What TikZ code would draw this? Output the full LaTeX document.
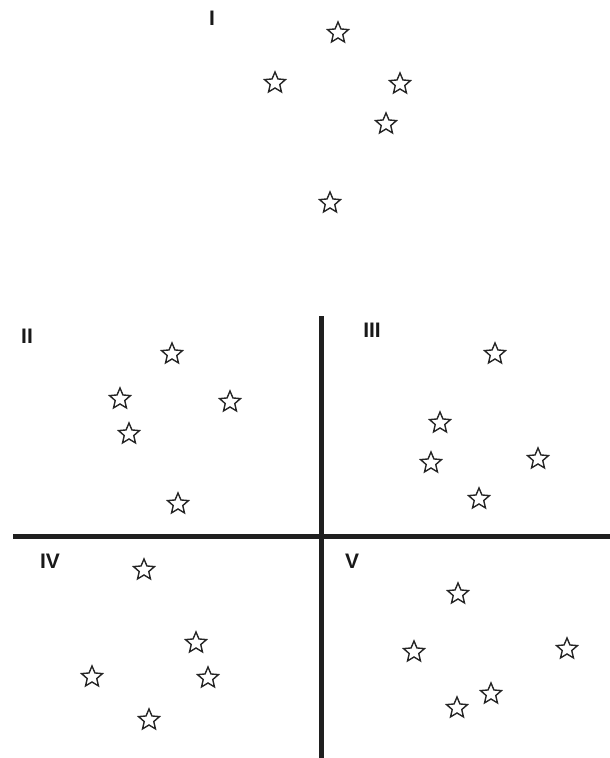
\documentclass[tikz,border=0pt]{standalone}
\usepackage{fontspec}
\setmainfont{Liberation Sans}
\usetikzlibrary{shapes.geometric}

\begin{document}
\begin{tikzpicture}[
    x=1pt, y=-1pt,
    pt/.style={star, star points=5, star point ratio=2.2, draw=black!85, line width=1.4pt, minimum size=22pt, inner sep=0pt},
    region/.style={font=\fontsize{21}{24}\selectfont\bfseries, inner sep=0pt, text=black!90},
    axis/.style={line width=5pt, black!88}
  ]
    \useasboundingbox (0,0) rectangle (610,758);

    % group I
    \node[region] (lI) at (212,18) {I};
    \node[pt] (a1) at (338,33) {};
    \node[pt] (a2) at (275,83) {};
    \node[pt] (a3) at (400,84) {};
    \node[pt] (a4) at (386,124) {};
    \node[pt] (a5) at (330,203) {};

    % axes
    \coordinate (vtop) at (321.5,316);
    \coordinate (vbot) at (321.5,758);
    \coordinate (hleft) at (13,536);
    \coordinate (hright) at (610,536);
    \draw[axis] (vtop) -- (vbot);
    \draw[axis] (hleft) -- (hright);

    % group II
    \node[region] (lII) at (27,336) {II};
    \node[pt] (b1) at (172,354) {};
    \node[pt] (b2) at (120,399) {};
    \node[pt] (b3) at (230,402) {};
    \node[pt] (b4) at (129,434) {};
    \node[pt] (b5) at (178,504) {};

    % group III
    \node[region] (lIII) at (372,330) {III};
    \node[pt] (c1) at (495,354) {};
    \node[pt] (c2) at (440,423) {};
    \node[pt] (c3) at (431,463) {};
    \node[pt] (c4) at (538,459) {};
    \node[pt] (c5) at (479,499) {};

    % group IV
    \node[region] (lIV) at (50,561) {IV};
    \node[pt] (d1) at (144,570) {};
    \node[pt] (d2) at (196,643) {};
    \node[pt] (d3) at (92,677) {};
    \node[pt] (d4) at (208,678) {};
    \node[pt] (d5) at (149,720) {};

    % group V
    \node[region] (lV) at (352,561) {V};
    \node[pt] (e1) at (458,594) {};
    \node[pt] (e2) at (414,652) {};
    \node[pt] (e3) at (567,649) {};
    \node[pt] (e4) at (491,694) {};
    \node[pt] (e5) at (457,708) {};
  \end{tikzpicture}
\end{document}
